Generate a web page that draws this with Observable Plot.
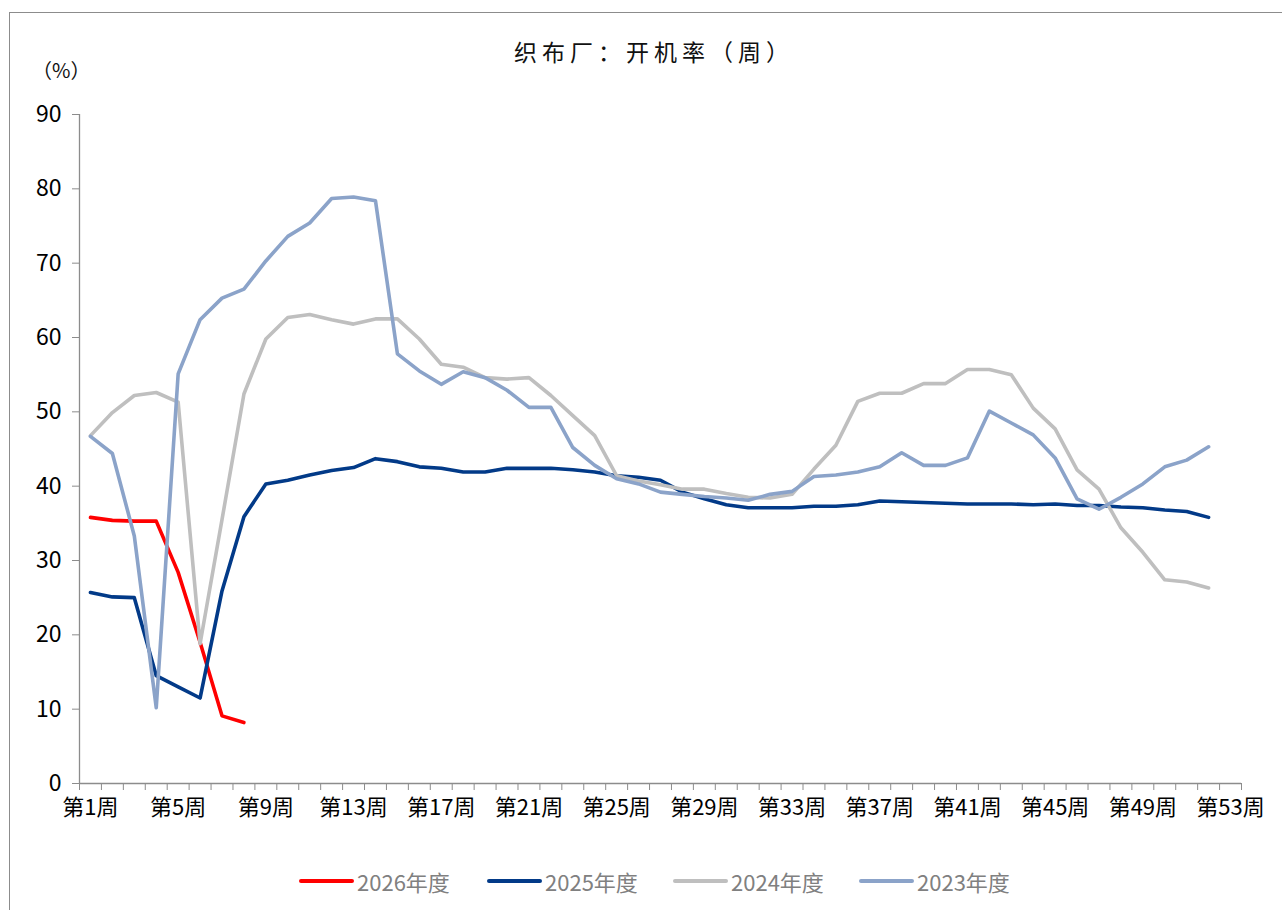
<!DOCTYPE html>
<html>
<head>
<meta charset="utf-8">
<script src="https://cdn.jsdelivr.net/npm/d3@7"></script>
<script src="https://cdn.jsdelivr.net/npm/@observablehq/plot@0.6"></script>
<style>
  html, body { margin: 0; padding: 0; background: #fff; overflow: hidden; }
  body { width: 1282px; height: 910px; position: relative; font-family: "Noto Sans CJK SC", sans-serif; }
  #frame { position: absolute; left: 9px; top: 12px; width: 1320px; height: 940px; border: 1.5px solid #8c8c8c; box-sizing: border-box; pointer-events: none; }
  #header { position: relative; height: 100px; }
  #title { position: absolute; left: 0; width: 1282px; top: 36px; text-align: center; font-size: 23px; letter-spacing: 5px; line-height: 30px; color: #111; padding-left: 26px; box-sizing: border-box; }
  #unit { position: absolute; left: 32px; top: 57px; font-family: "Noto Sans CJK SC", sans-serif; font-size: 20px; line-height: 26px; color: #111; white-space: nowrap; }
  #chart { position: relative; height: 740px; }
  #legend { position: relative; height: 70px; }
  .item { position: absolute; top: 27px; height: 28px; display: flex; align-items: center; }
  .sw { width: 55px; height: 4px; border-radius: 2px; margin-right: 3px; }
  .lab { font-size: 22px; color: #808080; letter-spacing: 0px; }
</style>
</head>
<body>
<div id="frame"></div>
<div id="header">
  <div id="title">织布厂：开机率（周）</div>
  <div id="unit">（%）</div>
</div>
<div id="chart"></div>
<div id="legend"></div>
<script>
const seriesNames = ["2026年度", "2025年度", "2024年度", "2023年度"];
const seriesColors = ["#ff0000", "#023a88", "#bfbfbf", "#8ba3c9"];

const v2026 = [35.8, 35.4, 35.3, 35.3, 28.4, 19.0, 9.1, 8.2];
const v2025 = [25.7, 25.1, 25.0, 14.5, 13.0, 11.5, 25.9, 35.9, 40.3, 40.8,
               41.5, 42.1, 42.5, 43.7, 43.3, 42.6, 42.4, 41.9, 41.9, 42.4,
               42.4, 42.4, 42.2, 41.9, 41.4, 41.2, 40.8, 39.2, 38.3, 37.5,
               37.1, 37.1, 37.1, 37.3, 37.3, 37.5, 38.0, 37.9, 37.8, 37.7,
               37.6, 37.6, 37.6, 37.5, 37.6, 37.4, 37.4, 37.2, 37.1, 36.8,
               36.6, 35.8];
const v2024 = [46.8, 49.9, 52.2, 52.6, 51.3, 18.8, 35.5, 52.4, 59.8, 62.7,
               63.1, 62.4, 61.8, 62.5, 62.5, 59.8, 56.4, 56.0, 54.6, 54.4,
               54.6, 52.2, 49.5, 46.8, 41.4, 40.7, 40.2, 39.6, 39.6, 39.0,
               38.5, 38.4, 38.9, 42.3, 45.5, 51.4, 52.5, 52.5, 53.8, 53.8,
               55.7, 55.7, 55.0, 50.5, 47.7, 42.2, 39.6, 34.4, 31.1, 27.4,
               27.1, 26.3];
const v2023 = [46.7, 44.4, 33.3, 10.2, 55.1, 62.4, 65.3, 66.5, 70.3, 73.6,
               75.4, 78.7, 78.9, 78.4, 57.8, 55.5, 53.7, 55.4, 54.6, 52.9,
               50.6, 50.6, 45.2, 42.8, 41.0, 40.3, 39.2, 38.9, 38.6, 38.4,
               38.1, 38.9, 39.3, 41.3, 41.5, 41.9, 42.6, 44.5, 42.8, 42.8,
               43.8, 50.1, 48.5, 46.9, 43.8, 38.3, 36.9, 38.5, 40.3, 42.6,
               43.5, 45.3];

const weekCount = 53;
const labelWeeks = [1, 5, 9, 13, 17, 21, 25, 29, 33, 37, 41, 45, 49, 53];
const yTicks = [0, 10, 20, 30, 40, 50, 60, 70, 80, 90];

const allValues = [v2026, v2025, v2024, v2023];
const seriesData = allValues.map((vals, i) =>
  vals.map((v, k) => ({ week: k + 1, value: v, series: seriesNames[i] })));

const axisColor = "#8c8c8c";

const chart = Plot.plot({
  width: 1282,
  height: 740,
  marginLeft: 79,
  marginRight: 41,
  marginTop: 14,
  marginBottom: 57,
  style: { fontFamily: "Noto Sans CJK SC, sans-serif", fontSize: "21px", color: "#000", background: "transparent", overflow: "visible" },
  x: { type: "linear", domain: [0.5, weekCount + 0.5] },
  y: { domain: [0, 90] },
  color: { domain: seriesNames, range: seriesColors },
  marks: [
    Plot.axisY({ ticks: yTicks, tickSize: 7, tickPadding: 11, stroke: axisColor, fill: "#000", fontSize: 23, label: null, tickFormat: d => String(d) }),
    Plot.axisX({ ticks: d3.range(0.5, weekCount + 1, 1), tickSize: 7, stroke: axisColor, tickFormat: () => "", label: null }),
    Plot.axisX({ ticks: labelWeeks, tickSize: 0, tickPadding: 16, fill: "#000", fontSize: 22, label: null, tickFormat: d => `第${d}周` }),
    Plot.ruleY([0], { stroke: axisColor, strokeWidth: 1.3 }),
    Plot.ruleX([0.5], { stroke: axisColor, strokeWidth: 1.3 }),
    ...seriesData.map(d => Plot.lineY(d, { x: "week", y: "value", stroke: "series", strokeWidth: 3.6, strokeLinejoin: "round", strokeLinecap: "round" }))
  ]
});
document.getElementById("chart").appendChild(chart);

const legend = document.getElementById("legend");
const legendLeft = [299, 487, 673, 859];
seriesNames.forEach((name, i) => {
  const it = document.createElement("div");
  it.className = "item";
  it.style.left = legendLeft[i] + "px";
  it.innerHTML = `<div class="sw" style="background:${seriesColors[i]}"></div><span class="lab">${name}</span>`;
  legend.appendChild(it);
});
</script>
</body>
</html>
